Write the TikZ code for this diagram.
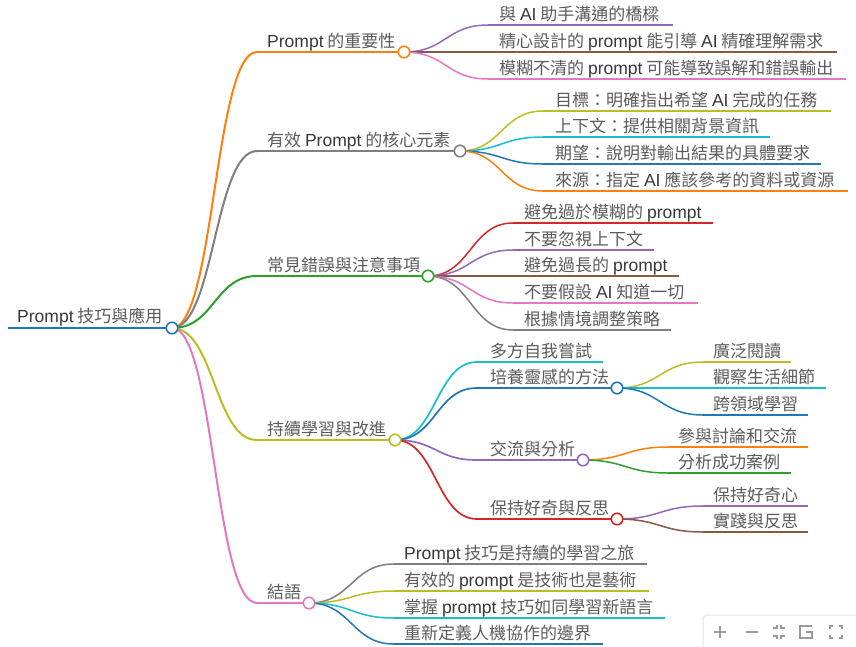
\documentclass[tikz,border=0pt]{standalone}
\usepackage{fontspec}
\setmainfont{Noto Sans CJK TC}
\newfontfamily\enfont[Scale=1.03]{Liberation Sans}
\definecolor{entxt}{HTML}{383838}
\newcommand\en[1]{{\enfont\color{entxt}#1}}
\usetikzlibrary{calc}
\definecolor{cblue}{HTML}{1F77B4}
\definecolor{corange}{HTML}{FF7F0E}
\definecolor{cgreen}{HTML}{2CA02C}
\definecolor{cred}{HTML}{D62728}
\definecolor{cpurple}{HTML}{9467BD}
\definecolor{cbrown}{HTML}{8C564B}
\definecolor{cpink}{HTML}{E377C2}
\definecolor{cgray}{HTML}{7F7F7F}
\definecolor{colive}{HTML}{BCBD22}
\definecolor{ccyan}{HTML}{17BECF}
\definecolor{txt}{HTML}{5C5C5C}
\definecolor{tbline}{HTML}{E2E2E2}
\definecolor{tbicon}{HTML}{9A9A9A}
\tikzset{
  lbl/.style={anchor=base west,inner sep=0pt,text=txt,font=\fontsize{17}{19}\selectfont},
  under/.style={line width=1.5pt},
  link/.style={line width=1.5pt,to path={let \p1=(\tikztostart),\p2=(\tikztotarget) in
    .. controls ({(\x1+\x2)/2},\y1) and ({(\x1+\x2)/2},\y2) .. (\tikztotarget)}},
  dot/.style={circle,draw,fill=white,line width=1.6pt,minimum size=11.5pt,inner sep=0pt},
  tb/.style={draw=tbicon,line width=1.6pt}
}
\begin{document}
\begin{tikzpicture}[x=1pt,y=-1pt]
\clip (0,0) rectangle (856,646);
\fill[white] (0,0) rectangle (856,646);

% root
\coordinate (root) at (172,328);
\coordinate (root-s) at (8,328);
\draw[under,cblue,line width=2.2pt] (root-s) -- (root);
\node[lbl] (root-t) at (17,322) {\en{Prompt} 技巧與應用};

% first level
\foreach \nm/\yy/\xe/\col/\lab in {
  imp/52/404/corange/{\en{Prompt} 的重要性},
  core/151/460/cgray/{有效 \en{Prompt} 的核心元素},
  err/276/428/cgreen/{常見錯誤與注意事項},
  learn/440/395/colive/{持續學習與改進},
  concl/603/309/cpink/{結語}}{
  \coordinate (\nm) at (\xe,\yy);
  \coordinate (\nm-s) at (257,\yy);
  \draw[under,\col,line width=2pt] (\nm-s) -- (\nm);
  \draw[link,\col,line width=2pt] (root) to (\nm-s);
  \node[lbl] (\nm-t) at (267,\yy-5) {\lab};
}

% Prompt 的重要性
\foreach \yy/\xe/\col/\lab [count=\i] in {
  25/673/cpurple/{與 \en{AI} 助手溝通的橋樑},
  52/837/cbrown/{精心設計的 \en{prompt} 能引導 \en{AI} 精確理解需求},
  79/846/cpink/{模糊不清的 \en{prompt} 可能導致誤解和錯誤輸出}}{
  \coordinate (imp\i) at (488,\yy);
  \coordinate (imp\i-e) at (\xe,\yy);
  \draw[under,\col] (imp\i) -- (imp\i-e);
  \draw[link,\col] (imp) to (imp\i);
  \node[lbl] (imp\i-t) at (499,\yy-5) {\lab};
}

% 核心元素
\foreach \yy/\xe/\col/\lab [count=\i] in {
  111/831/colive/{目標：明確指出希望 \en{AI} 完成的任務},
  137/770/ccyan/{上下文：提供相關背景資訊},
  164/821/cblue/{期望：說明對輸出結果的具體要求},
  191/848/corange/{來源：指定 \en{AI} 應該參考的資料或資源}}{
  \coordinate (core\i) at (543,\yy);
  \coordinate (core\i-e) at (\xe,\yy);
  \draw[under,\col] (core\i) -- (core\i-e);
  \draw[link,\col] (core) to (core\i);
  \node[lbl] (core\i-t) at (555,\yy-5) {\lab};
}

% 常見錯誤
\foreach \yy/\xe/\col/\lab [count=\i] in {
  223/713/cred/{避免過於模糊的 \en{prompt}},
  250/654/cpurple/{不要忽視上下文},
  276/679/cbrown/{避免過長的 \en{prompt}},
  303/698/cpink/{不要假設 \en{AI} 知道一切},
  330/671/cgray/{根據情境調整策略}}{
  \coordinate (err\i) at (513,\yy);
  \coordinate (err\i-e) at (\xe,\yy);
  \draw[under,\col] (err\i) -- (err\i-e);
  \draw[link,\col] (err) to (err\i);
  \node[lbl] (err\i-t) at (524,\yy-5) {\lab};
}

% 持續學習
\foreach \nm/\yy/\xe/\col/\lab in {
  try/362/603/ccyan/{多方自我嘗試},
  insp/388/617/cblue/{培養靈感的方法},
  talk/460/583/cpurple/{交流與分析},
  cur/519/617/cred/{保持好奇與反思}}{
  \coordinate (\nm) at (\xe,\yy);
  \coordinate (\nm-s) at (477,\yy);
  \draw[under,\col,line width=1.7pt] (\nm-s) -- (\nm);
  \draw[link,\col,line width=1.7pt] (learn) to (\nm-s);
  \node[lbl] (\nm-t) at (490,\yy-5) {\lab};
}
\foreach \src/\xs/\yy/\xe/\col/\lab [count=\i] in {
  insp/703/362/791/colive/{廣泛閱讀},
  insp/703/388/826/ccyan/{觀察生活細節},
  insp/703/415/808/cblue/{跨領域學習},
  talk/668/447/808/corange/{參與討論和交流},
  talk/668/473/791/cgreen/{分析成功案例},
  cur/703/506/808/cpurple/{保持好奇心},
  cur/703/532/808/cbrown/{實踐與反思}}{
  \coordinate (lv\i) at (\xs,\yy);
  \coordinate (lv\i-e) at (\xe,\yy);
  \draw[under,\col] (lv\i) -- (lv\i-e);
  \draw[link,\col] (\src) to (lv\i);
  \node[lbl] (lv\i-t) at (\xs+10,\yy-5) {\lab};
}

% 結語
\foreach \yy/\xe/\col/\lab [count=\i] in {
  564/647/cgray/{\en{Prompt} 技巧是持續的學習之旅},
  591/649/colive/{有效的 \en{prompt} 是技術也是藝術},
  618/665/ccyan/{掌握 \en{prompt} 技巧如同學習新語言},
  644/603/cblue/{重新定義人機協作的邊界}}{
  \coordinate (concl\i) at (394,\yy);
  \coordinate (concl\i-e) at (\xe,\yy);
  \draw[under,\col] (concl\i) -- (concl\i-e);
  \draw[link,\col] (concl) to (concl\i);
  \node[lbl] (concl\i-t) at (404,\yy-5) {\lab};
}

% circles on top
\foreach \nm/\col in {root/cblue,imp/corange,core/cgray,err/cgreen,learn/colive,
  concl/cpink,insp/cblue,talk/cpurple,cur/cred}
  \node[dot,draw=\col] (\nm-dot) at (\nm) {};

% toolbar
\draw[tbline,fill=white,rounded corners=4pt,line width=1pt] (703,615) rectangle (870,670);
\draw[tb] (714,632) -- (726,632) (720,626) -- (720,638);
\draw[tb] (746,632) -- (758,632);
\draw[tb] (773,628) -- (777,628) -- (777,625) (781,625) -- (781,628) -- (785,628)
  (773,636) -- (777,636) -- (777,639) (781,639) -- (781,636) -- (785,636);
\draw[tb] (812,626) -- (800,626) -- (800,638) -- (812,638) -- (812,632) -- (806,632);
\draw[tb] (830,629) -- (830,626) -- (833,626) (839,626) -- (842,626) -- (842,629)
  (830,635) -- (830,638) -- (833,638) (839,638) -- (842,638) -- (842,635);
\end{tikzpicture}
\end{document}
